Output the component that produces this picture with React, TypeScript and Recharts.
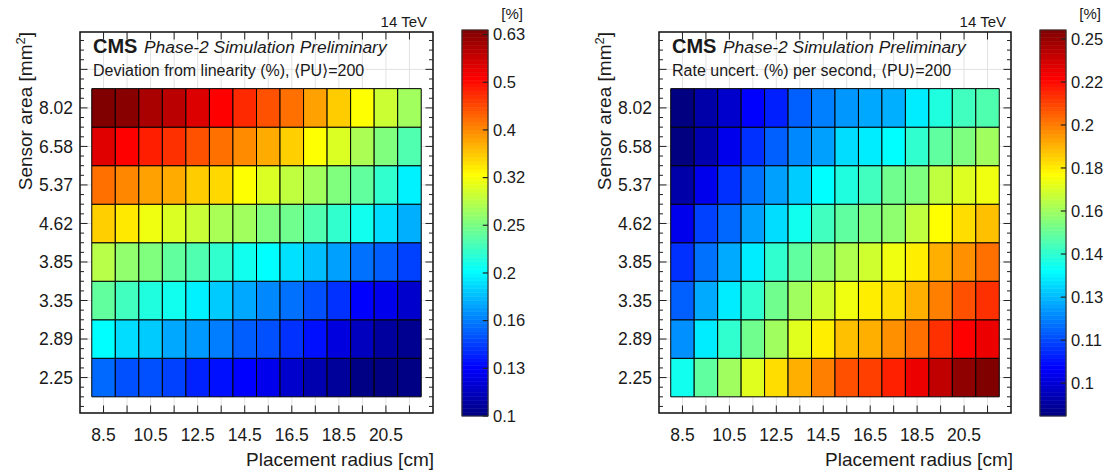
import React from 'react';
import { ComposedChart, XAxis, YAxis, CartesianGrid, ReferenceArea, ReferenceLine } from 'recharts';

// ---------- data ----------
const radii = [8.5, 9.5, 10.5, 11.5, 12.5, 13.5, 14.5, 15.5, 16.5, 17.5, 18.5, 19.5, 20.5, 21.5];
const radiusTickLabels = [8.5, 10.5, 12.5, 14.5, 16.5, 18.5, 20.5];
const sensorAreas = ['2.25', '2.89', '3.35', '3.85', '4.62', '5.37', '6.58', '8.02'];

// rows ordered bottom (2.25 mm2) -> top (8.02 mm2), columns follow radii
const deviation = [
  [0.153, 0.146, 0.146, 0.142, 0.134, 0.130, 0.126, 0.122, 0.115, 0.109, 0.105, 0.101, 0.100, 0.101],
  [0.201, 0.189, 0.183, 0.172, 0.167, 0.159, 0.150, 0.146, 0.138, 0.130, 0.119, 0.112, 0.106, 0.103],
  [0.240, 0.226, 0.213, 0.207, 0.196, 0.183, 0.172, 0.162, 0.155, 0.146, 0.138, 0.126, 0.122, 0.115],
  [0.281, 0.262, 0.254, 0.240, 0.233, 0.220, 0.207, 0.201, 0.190, 0.179, 0.169, 0.155, 0.150, 0.142],
  [0.350, 0.334, 0.312, 0.301, 0.290, 0.274, 0.270, 0.254, 0.247, 0.233, 0.220, 0.207, 0.189, 0.174],
  [0.416, 0.399, 0.381, 0.374, 0.352, 0.344, 0.320, 0.301, 0.286, 0.270, 0.254, 0.240, 0.220, 0.196],
  [0.541, 0.512, 0.483, 0.468, 0.441, 0.416, 0.396, 0.374, 0.350, 0.320, 0.301, 0.275, 0.254, 0.233],
  [0.645, 0.634, 0.598, 0.580, 0.544, 0.512, 0.474, 0.441, 0.416, 0.381, 0.352, 0.320, 0.292, 0.270],
];

const rateUncert = [
  [0.1369, 0.1484, 0.1583, 0.1687, 0.1802, 0.1887, 0.1980, 0.2076, 0.2113, 0.2181, 0.2296, 0.2400, 0.2521, 0.2560],
  [0.1204, 0.1323, 0.1413, 0.1508, 0.1583, 0.1687, 0.1772, 0.1856, 0.1887, 0.1948, 0.2011, 0.2146, 0.2252, 0.2296],
  [0.1147, 0.1237, 0.1323, 0.1413, 0.1508, 0.1583, 0.1661, 0.1715, 0.1772, 0.1802, 0.1887, 0.1980, 0.2076, 0.2146],
  [0.1093, 0.1166, 0.1237, 0.1323, 0.1413, 0.1484, 0.1557, 0.1607, 0.1661, 0.1715, 0.1772, 0.1887, 0.1948, 0.2011],
  [0.1023, 0.1111, 0.1157, 0.1224, 0.1302, 0.1369, 0.1437, 0.1484, 0.1531, 0.1557, 0.1634, 0.1741, 0.1802, 0.1856],
  [0.0954, 0.1023, 0.1093, 0.1166, 0.1224, 0.1279, 0.1347, 0.1390, 0.1437, 0.1508, 0.1531, 0.1634, 0.1683, 0.1715],
  [0.0916, 0.0961, 0.1023, 0.1093, 0.1147, 0.1194, 0.1224, 0.1302, 0.1323, 0.1347, 0.1413, 0.1484, 0.1531, 0.1583],
  [0.0916, 0.0954, 0.0989, 0.1041, 0.1075, 0.1147, 0.1184, 0.1214, 0.1234, 0.1243, 0.1323, 0.1390, 0.1437, 0.1459],
];

const deviationRange: [number, number] = [0.1, 0.645];
const rateRange: [number, number] = [0.0916, 0.256];
const deviationScaleTicks = [0.1, 0.1259, 0.1585, 0.1995, 0.2512, 0.3162, 0.3981, 0.5012, 0.631];
const deviationScaleLabels = ['0.1', '0.13', '0.16', '0.2', '0.25', '0.32', '0.4', '0.5', '0.63'];
const rateScaleTicks = [0.1, 0.1121, 0.1257, 0.141, 0.1581, 0.1773, 0.1988, 0.2229, 0.25];
const rateScaleLabels = ['0.1', '0.11', '0.13', '0.14', '0.16', '0.18', '0.2', '0.22', '0.25'];

// ---------- helpers ----------
const FONT = '"Liberation Sans", Arial, Helvetica, sans-serif';
const TXT = '#1a1a1a';
const X_DOMAIN: [number, number] = [7.5, 22.5];
const Y_DOMAIN: [number, number] = [-0.92, 8.97];
const yMajor = [0, 1, 2, 3, 4, 5, 6, 7, 8];
const yMinor: number[] = [];
for (let q = -3; q <= 35; q++) if (q % 4 !== 0) yMinor.push(q / 4);

function jet(t: number): string {
  const c = (v: number) => Math.round(255 * Math.max(0, Math.min(1, v)));
  const r = c(Math.min(4 * t - 1.5, -4 * t + 4.5));
  const g = c(Math.min(4 * t - 0.5, -4 * t + 3.5));
  const b = c(Math.min(4 * t + 0.5, -4 * t + 2.5));
  return `rgb(${r},${g},${b})`;
}
function colorFor(v: number, range: [number, number]): string {
  const t = Math.log(v / range[0]) / Math.log(range[1] / range[0]);
  return jet(Math.max(0, Math.min(1, t)));
}

function Heatmap({ values, range, left, rightMargin }: { values: number[][]; range: [number, number]; left: number; rightMargin: number }) {
  const tickStyle = { fontSize: 17.5, fill: TXT, fontFamily: FONT };
  const xLen = 0.195;
  const yMajLen = 0.32;
  const yMinLen = 0.17;
  return (
    <div style={{ position: 'absolute', left, top: 0 }}>
      <ComposedChart width={460} height={473} margin={{ top: 32, right: rightMargin, bottom: 30, left: 20 }} data={[]}>
        <CartesianGrid stroke="#e2e2e2" strokeWidth={1} />
        <XAxis
          type="number"
          dataKey="x"
          domain={X_DOMAIN}
          ticks={radii}
          interval={0}
          allowDataOverflow
          tickLine={false}
          axisLine={false}
          tickSize={0}
          tickMargin={16}
          height={30}
          tick={tickStyle}
          tickFormatter={(v: number) => (radiusTickLabels.includes(v) ? String(v) : '')}
        />
        <YAxis
          type="number"
          dataKey="y"
          domain={Y_DOMAIN}
          ticks={yMajor}
          interval={0}
          allowDataOverflow
          width={60}
          tickLine={false}
          axisLine={false}
          tickSize={0}
          tickMargin={7}
          tick={tickStyle}
          tickFormatter={(v: number) => (v < sensorAreas.length ? sensorAreas[v] : '')}
        />
        {values.map((row, i) =>
          row.map((v, j) => (
            <ReferenceArea
              key={`c${i}-${j}`}
              x1={radii[j] - 0.5}
              x2={radii[j] + 0.5}
              y1={i - 0.5}
              y2={i + 0.5}
              fill={colorFor(v, range)}
              fillOpacity={1}
              stroke="#000"
              strokeWidth={1}
            />
          ))
        )}
        {radii.map((x) => (
          <ReferenceLine key={`xb${x}`} segment={[{ x, y: Y_DOMAIN[0] }, { x, y: Y_DOMAIN[0] + xLen }]} stroke="#222" strokeWidth={1} />
        ))}
        {radii.map((x) => (
          <ReferenceLine key={`xt${x}`} segment={[{ x, y: Y_DOMAIN[1] }, { x, y: Y_DOMAIN[1] - xLen }]} stroke="#222" strokeWidth={1} />
        ))}
        {yMajor.map((y) => (
          <ReferenceLine key={`yl${y}`} segment={[{ x: X_DOMAIN[0], y }, { x: X_DOMAIN[0] + yMajLen, y }]} stroke="#222" strokeWidth={1} />
        ))}
        {yMajor.map((y) => (
          <ReferenceLine key={`yr${y}`} segment={[{ x: X_DOMAIN[1], y }, { x: X_DOMAIN[1] - yMajLen, y }]} stroke="#222" strokeWidth={1} />
        ))}
        {yMinor.map((y) => (
          <ReferenceLine key={`yml${y}`} segment={[{ x: X_DOMAIN[0], y }, { x: X_DOMAIN[0] + yMinLen, y }]} stroke="#222" strokeWidth={1} />
        ))}
        {yMinor.map((y) => (
          <ReferenceLine key={`ymr${y}`} segment={[{ x: X_DOMAIN[1], y }, { x: X_DOMAIN[1] - yMinLen, y }]} stroke="#222" strokeWidth={1} />
        ))}
        <ReferenceArea x1={X_DOMAIN[0]} x2={X_DOMAIN[1]} y1={Y_DOMAIN[0]} y2={Y_DOMAIN[1]} fill="none" fillOpacity={0} stroke="#111" strokeWidth={1.5} />
      </ComposedChart>
    </div>
  );
}

function ColorBar({ range, ticks, labels, left, width, axisWidth, rightMargin }: { range: [number, number]; ticks: number[]; labels: string[]; left: number; width: number; axisWidth: number; rightMargin: number }) {
  const N = 100;
  const bands: { lo: number; hi: number; color: string }[] = [];
  const ratio = range[1] / range[0];
  for (let k = 0; k < N; k++) {
    bands.push({
      lo: range[0] * Math.pow(ratio, k / N),
      hi: range[0] * Math.pow(ratio, (k + 1) / N),
      color: jet((k + 0.5) / N),
    });
  }
  return (
    <div style={{ position: 'absolute', left, top: 0 }}>
      <ComposedChart width={width} height={473} margin={{ top: 30, right: rightMargin, bottom: 57, left: 22 }} data={[]}>
        <XAxis type="number" dataKey="x" domain={[0, 1]} hide allowDataOverflow height={0} />
        <YAxis
          type="number"
          dataKey="y"
          orientation="right"
          scale="log"
          domain={range}
          ticks={ticks}
          interval={0}
          allowDataOverflow
          width={axisWidth}
          tickLine={false}
          axisLine={false}
          tickSize={0}
          tickMargin={5}
          tick={{ fontSize: 16.5, fill: TXT, fontFamily: FONT, textAnchor: 'start' }}
          tickFormatter={(v: number) => {
            const idx = ticks.indexOf(v);
            return idx >= 0 ? labels[idx] : '';
          }}
        />
        {bands.map((b, k) => (
          <ReferenceArea key={`b${k}`} x1={0} x2={1} y1={b.lo} y2={b.hi} fill={b.color} fillOpacity={1} stroke={b.color} strokeWidth={0.6} />
        ))}
        {ticks.map((t) => (
          <ReferenceLine key={`t${t}`} segment={[{ x: 0.8, y: t }, { x: 1, y: t }]} stroke="#222" strokeWidth={1.2} />
        ))}
        <ReferenceArea x1={0} x2={1} y1={range[0]} y2={range[1]} fill="none" fillOpacity={0} stroke="#333" strokeWidth={1.2} />
      </ComposedChart>
    </div>
  );
}

function Texts({ dx, subtitle, unitX }: { dx: number; subtitle: string; unitX: number }) {
  return (
    <g fontFamily={FONT} fill={TXT}>
      <text x={427 + dx} y={27} fontSize={15} textAnchor="end">14 TeV</text>
      <text x={93 + dx} y={53} fontSize={20} fontWeight="bold">CMS</text>
      <text x={144 + dx} y={53} fontSize={17.4} fontStyle="italic">Phase-2 Simulation Preliminary</text>
      <text x={93 + dx} y={76} fontSize={16}>{subtitle}</text>
      <text transform={`translate(${31.5 + dx},32) rotate(-90)`} fontSize={19} textAnchor="end">
        Sensor area [mm<tspan dy={-7} fontSize={13}>2</tspan><tspan dy={7}>]</tspan>
      </text>
      <text x={434 + dx} y={466} fontSize={19} textAnchor="end">Placement radius [cm]</text>
      <text x={unitX} y={19} fontSize={15} textAnchor="end">[%]</text>
    </g>
  );
}

export default function App() {
  return (
    <div style={{ position: 'absolute', left: 0, top: 0, width: 1106, height: 473, background: '#fff', overflow: 'hidden' }}>
      <Heatmap values={deviation} range={deviationRange} left={0} rightMargin={27} />
      <ColorBar range={deviationRange} ticks={deviationScaleTicks} labels={deviationScaleLabels} left={440} width={110} axisWidth={50} rightMargin={12} />
      <Heatmap values={rateUncert} range={rateRange} left={579} rightMargin={28} />
      <ColorBar range={rateRange} ticks={rateScaleTicks} labels={rateScaleLabels} left={1018} width={88} axisWidth={40} rightMargin={0} />
      <svg width={1106} height={473} style={{ position: 'absolute', left: 0, top: 0, pointerEvents: 'none' }}>
        <Texts dx={0} subtitle={'Deviation from linearity (%), \u27E8PU\u27E9=200'} unitX={523} />
        <Texts dx={579} subtitle={'Rate uncert. (%) per second, \u27E8PU\u27E9=200'} unitX={1101} />
      </svg>
    </div>
  );
}
